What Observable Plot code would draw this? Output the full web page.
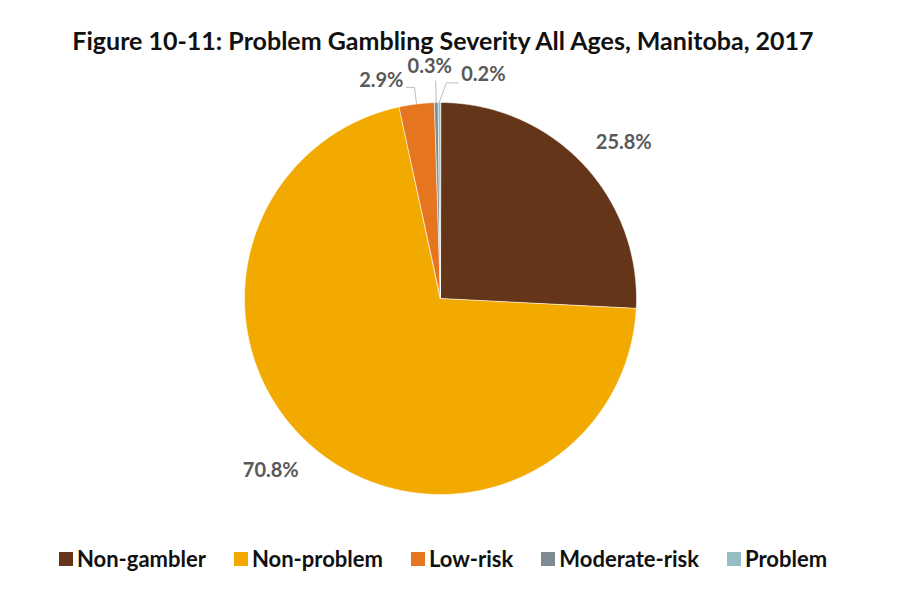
<!DOCTYPE html>
<html>
<head>
<meta charset="utf-8">
<script src="https://cdn.jsdelivr.net/npm/d3@7"></script>
<script src="https://cdn.jsdelivr.net/npm/@observablehq/plot@0.6"></script>
<style>
  html, body { margin: 0; padding: 0; background: #fff; }
  body { width: 900px; height: 600px; overflow: hidden; font-family: Lato, "Open Sans", sans-serif; }
  #title { height: 50px; box-sizing: border-box; padding-top: 26px; text-align: center; font-weight: 700; color: #111;
           font-size: 25px; line-height: 28px; white-space: nowrap; margin-left: -14px; }
  #chart { height: 485px; }
  #chart svg { overflow: visible; }
  #legend { display: flex; justify-content: center; gap: 28px; margin-left: -14px; padding-top: 11px; font-weight: 700; font-size: 22px; line-height: 26px; color: #111; }
  .item { display: flex; align-items: center; gap: 4px; }
  .sw { width: 14px; height: 14px; display: inline-block; }
</style>
</head>
<body>
<div id="title">Figure 10-11: Problem Gambling Severity All Ages, Manitoba, 2017</div>
<div id="chart"></div>
<div id="legend"></div>
<script>
// ---- data ----
const categories = ["Non-gambler", "Non-problem", "Low-risk", "Moderate-risk", "Problem"];
const shares = [25.8, 70.8, 2.9, 0.3, 0.2];
const labels = ["25.8%", "70.8%", "2.9%", "0.3%", "0.2%"];
const colors = ["#643518", "#F2A900", "#E5761F", "#7E8B93", "#96BDC3"];

// ---- layout ----
const W = 900, H = 485, cx = 440, cy = 248, R = 196;
const polar = (a, r) => [r * Math.sin(a), r * Math.cos(a)];

const arcs = d3.pie().sort(null).value(d => d)(shares);

// slice polygons (data units: radius = 1)
const slicePts = [];
arcs.forEach((a, i) => {
  const n = Math.max(2, Math.ceil((a.endAngle - a.startAngle) / 0.005) + 1);
  slicePts.push({cat: categories[i], x: 0, y: 0});
  for (let k = 0; k < n; k++) {
    const t = a.startAngle + (a.endAngle - a.startAngle) * k / (n - 1);
    const [x, y] = polar(t, 1);
    slicePts.push({cat: categories[i], x, y});
  }
});
const mid = arcs.map(a => (a.startAngle + a.endAngle) / 2);
const px = 1 / R; // one pixel in data units

// big labels
const bigLabels = [0, 1].map(i => {
  const [x, y] = polar(mid[i], 1.22);
  return {x, y, text: labels[i], i};
});

// leader lines for small slices
const leaders = [];
// Low-risk
{
  const p0 = polar(mid[2], 1.0), p1 = polar(mid[2], 1.085), p2 = [p1[0] - 8 * px, p1[1]];
  [p0, p1, p2].forEach(p => leaders.push({k: 2, x: p[0], y: p[1]}));
}
// Moderate-risk
{
  const p0 = polar(mid[3], 1.0), p1 = polar(mid[3], 1.11);
  [p0, p1].forEach(p => leaders.push({k: 3, x: p[0], y: p[1]}));
}
// Problem
{
  const p0 = polar(mid[4], 1.0), p1 = [p0[0] + 7 * px, 1.10], p2 = [p1[0] + 12 * px, 1.10];
  [p0, p1, p2].forEach(p => leaders.push({k: 4, x: p[0], y: p[1]}));
}
const lastOf = k => leaders.filter(d => d.k === k).slice(-1)[0];
const smallLabels = [
  {...lastOf(2), text: labels[2], anchor: "end", dx: -3, dy: -7},
  {...lastOf(3), text: labels[3], anchor: "middle", dx: -6, dy: -14},
  {...lastOf(4), text: labels[4], anchor: "start", dx: 3, dy: -8}
];

const labelFont = {fontFamily: "Lato, sans-serif", fontWeight: 700, fontSize: 20, fill: "#595959"};

const chart = Plot.plot({
  width: W, height: H, margin: 0,
  x: {domain: [-1, 1], range: [cx - R, cx + R], axis: null},
  y: {domain: [-1, 1], range: [cy + R, cy - R], axis: null},
  color: {domain: categories, range: colors},
  marks: [
    Plot.line(slicePts, {x: "x", y: "y", z: "cat", fill: "cat", stroke: "#fff", strokeWidth: 0.6, curve: "linear-closed"}),
    Plot.line(leaders, {x: "x", y: "y", z: "k", stroke: "#BFBFBF", strokeWidth: 1}),
    Plot.text(bigLabels.filter(d => d.i === 0), {x: "x", y: "y", text: "text", dx: 10, dy: 9, ...labelFont}),
    Plot.text(bigLabels.filter(d => d.i === 1), {x: "x", y: "y", text: "text", dx: -15, dy: -10, ...labelFont}),
    ...smallLabels.map(d => Plot.text([d], {x: "x", y: "y", text: "text", textAnchor: d.anchor, dx: d.dx, dy: d.dy, ...labelFont}))
  ]
});
document.getElementById("chart").appendChild(chart);

// legend
const legend = document.getElementById("legend");
categories.forEach((c, i) => {
  const it = document.createElement("div");
  it.className = "item";
  it.innerHTML = `<span class="sw" style="background:${colors[i]}"></span><span>${c}</span>`;
  legend.appendChild(it);
});
</script>
</body>
</html>
